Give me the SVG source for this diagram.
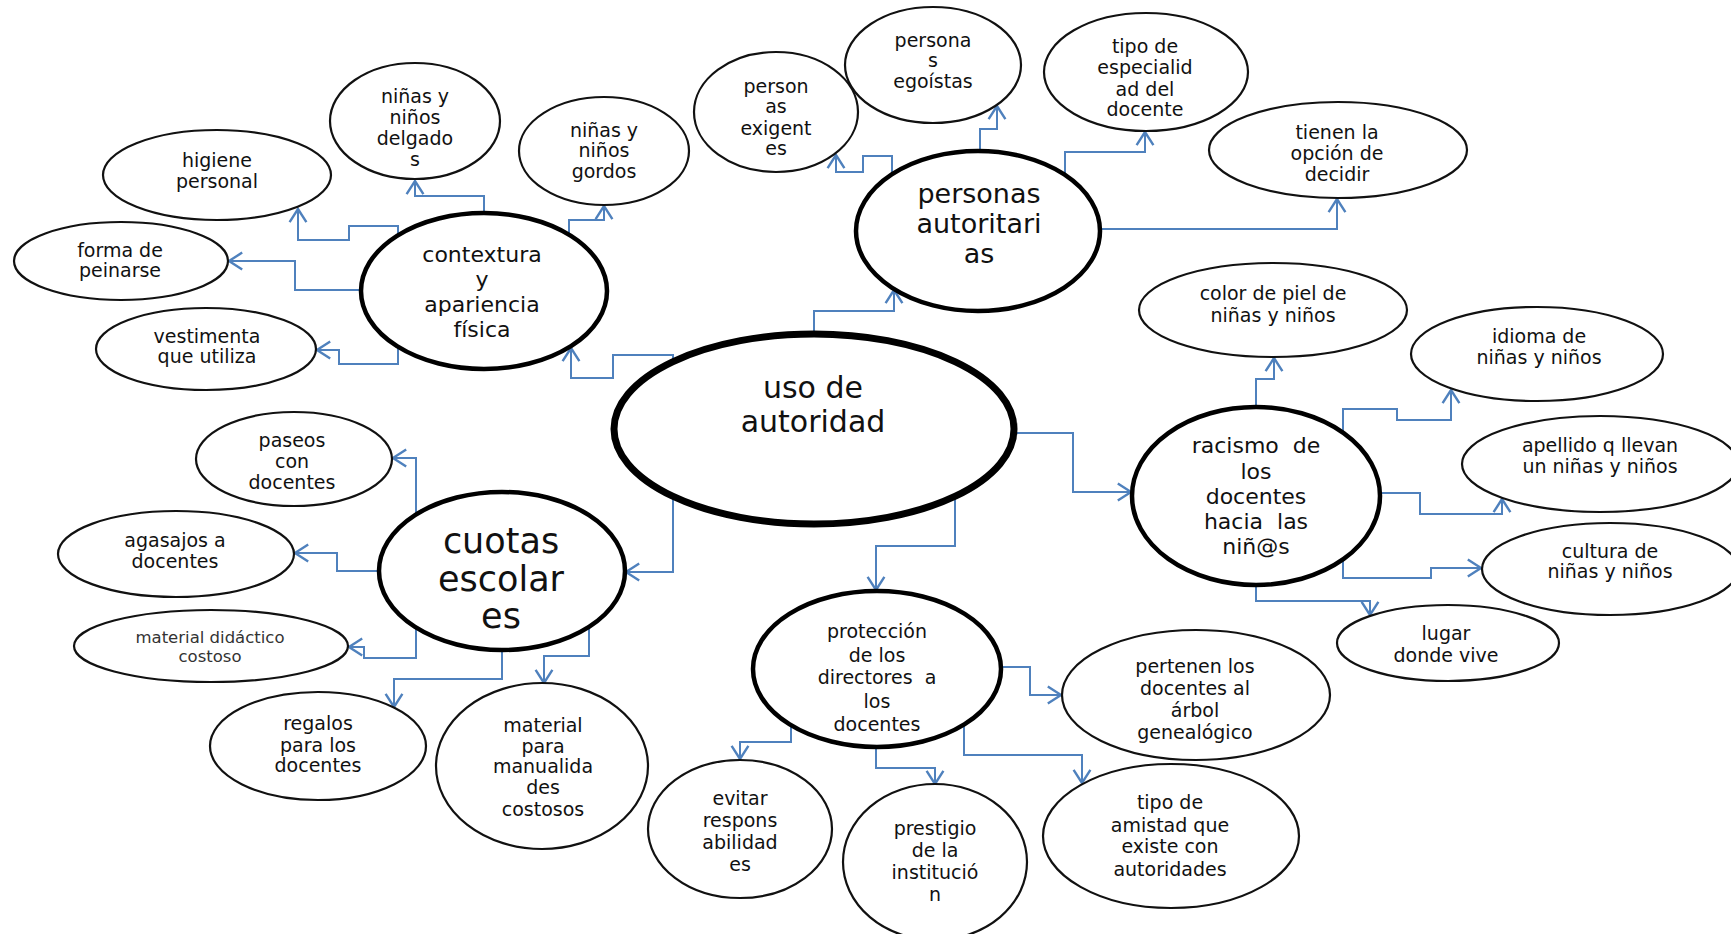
<svg xmlns="http://www.w3.org/2000/svg" width="1731" height="934" viewBox="0 0 1731 934">
<defs>
<marker id="arr" markerUnits="userSpaceOnUse" markerWidth="24" markerHeight="24" viewBox="-14 -10 16 20" refX="0" refY="0" orient="auto">
<path d="M-11,-7 L0,0 L-11,7" fill="none" stroke="#4f81bd" stroke-width="2"/>
</marker>
</defs>
<style>
.n{fill:#fff;stroke:#111;stroke-width:2.2}
.m{fill:#fff;stroke:#000;stroke-width:4.5}
.c{fill:#fff;stroke:#000;stroke-width:7}
text{font-family:"DejaVu Sans","Liberation Sans",sans-serif;fill:#111;text-anchor:middle}
.t{font-size:19px}
.s{font-size:16.5px;fill:#333}
.l{font-size:22px}
.k{font-size:27px}
.q{font-size:35px}
.u{font-size:30px}
.e path{fill:none;stroke:#4f81bd;stroke-width:2;marker-end:url(#arr)}
</style>
<rect width="1731" height="934" fill="#fff"/>
<g class="e" id="connectors">
<path d="M673,362 V355 H613 V378 H571 V348"/>
<path d="M398,235 V226 H349 V240 H298 V209"/>
<path d="M484,213 V196 H415 V181"/>
<path d="M569,235 V220 H604 V206"/>
<path d="M361,290 H295 V261 H229"/>
<path d="M398,347 V364 H339 V350 H317"/>
<path d="M814,334 V311 H894 V290"/>
<path d="M892,174 V156 H863 V172 H836 V155"/>
<path d="M980,151 V129 H997 V106"/>
<path d="M1065,175 V152 H1145 V132"/>
<path d="M1100,229 H1337 V199"/>
<path d="M1014,433 H1073 V492 H1131"/>
<path d="M1256,407 V379 H1274 V358"/>
<path d="M1343,433 V409 H1397 V420 H1451 V390"/>
<path d="M1380,493 H1420 V514 H1502 V499"/>
<path d="M1343,559 V578 H1431 V568 H1481"/>
<path d="M1256,585 V601 H1370 V615"/>
<path d="M673,496 V572 H626"/>
<path d="M416,515 V458 H393"/>
<path d="M379,571 H337 V553 H295"/>
<path d="M416,628 V658 H364 V647 H349"/>
<path d="M502,650 V679 H394 V707"/>
<path d="M589,627 V656 H544 V683"/>
<path d="M955,497 V546 H876 V590"/>
<path d="M1001,667 H1030 V695 H1061"/>
<path d="M791,725 V742 H740 V759"/>
<path d="M876,747 V768 H935 V784"/>
<path d="M964,725 V755 H1082 V783"/>
</g>
<g id="uso-de-autoridad"><ellipse class="c" cx="814" cy="429" rx="200" ry="95"/><text class="u" x="813" y="398">uso de</text><text class="u" x="813" y="432">autoridad</text></g>
<g id="contextura"><ellipse class="m" cx="484" cy="291" rx="123" ry="78"/><text class="l" x="482" y="262">contextura</text><text class="l" x="482" y="287">y</text><text class="l" x="482" y="312">apariencia</text><text class="l" x="482" y="337">física</text></g>
<g id="higiene"><ellipse class="n" cx="217" cy="175" rx="114" ry="45"/><text class="t" x="217" y="167">higiene</text><text class="t" x="217" y="188">personal</text></g>
<g id="delgados"><ellipse class="n" cx="415" cy="121" rx="85" ry="58"/><text class="t" x="415" y="103">niñas y</text><text class="t" x="415" y="124">niños</text><text class="t" x="415" y="145">delgado</text><text class="t" x="415" y="166">s</text></g>
<g id="gordos"><ellipse class="n" cx="604" cy="151" rx="85" ry="54"/><text class="t" x="604" y="137">niñas y</text><text class="t" x="604" y="157">niños</text><text class="t" x="604" y="178">gordos</text></g>
<g id="peinarse"><ellipse class="n" cx="121" cy="261" rx="107" ry="39"/><text class="t" x="120" y="257">forma de</text><text class="t" x="120" y="277">peinarse</text></g>
<g id="vestimenta"><ellipse class="n" cx="206" cy="349" rx="110" ry="41"/><text class="t" x="207" y="343">vestimenta</text><text class="t" x="207" y="363">que utiliza</text></g>
<g id="autoritarias"><ellipse class="m" cx="978" cy="231" rx="122" ry="80"/><text class="k" x="979" y="203">personas</text><text class="k" x="979" y="233">autoritari</text><text class="k" x="979" y="263">as</text></g>
<g id="exigentes"><ellipse class="n" cx="776" cy="112" rx="82" ry="60"/><text class="t" x="776" y="93">person</text><text class="t" x="776" y="113">as</text><text class="t" x="776" y="135">exigent</text><text class="t" x="776" y="155">es</text></g>
<g id="egoistas"><ellipse class="n" cx="933" cy="65" rx="88" ry="58"/><text class="t" x="933" y="47">persona</text><text class="t" x="933" y="67">s</text><text class="t" x="933" y="88">egoístas</text></g>
<g id="especialidad"><ellipse class="n" cx="1146" cy="72" rx="102" ry="59"/><text class="t" x="1145" y="53">tipo de</text><text class="t" x="1145" y="74">especialid</text><text class="t" x="1145" y="96">ad del</text><text class="t" x="1145" y="116">docente</text></g>
<g id="decidir"><ellipse class="n" cx="1338" cy="150" rx="129" ry="48"/><text class="t" x="1337" y="139">tienen la</text><text class="t" x="1337" y="160">opción de</text><text class="t" x="1337" y="181">decidir</text></g>
<g id="racismo"><ellipse class="m" cx="1256" cy="496" rx="124" ry="89"/><text class="l" x="1256" y="453" xml:space="preserve">racismo  de</text><text class="l" x="1256" y="479">los</text><text class="l" x="1256" y="504">docentes</text><text class="l" x="1256" y="529" xml:space="preserve">hacia  las</text><text class="l" x="1256" y="554">niñ@s</text></g>
<g id="color-piel"><ellipse class="n" cx="1273" cy="310" rx="134" ry="47"/><text class="t" x="1273" y="300">color de piel de</text><text class="t" x="1273" y="322">niñas y niños</text></g>
<g id="idioma"><ellipse class="n" cx="1537" cy="354" rx="126" ry="47"/><text class="t" x="1539" y="343">idioma de</text><text class="t" x="1539" y="364">niñas y niños</text></g>
<g id="apellido"><ellipse class="n" cx="1600" cy="464" rx="138" ry="48"/><text class="t" x="1600" y="452">apellido q llevan</text><text class="t" x="1600" y="473">un niñas y niños</text></g>
<g id="cultura"><ellipse class="n" cx="1610" cy="569" rx="128" ry="46"/><text class="t" x="1610" y="558">cultura de</text><text class="t" x="1610" y="578">niñas y niños</text></g>
<g id="lugar"><ellipse class="n" cx="1448" cy="643" rx="111" ry="38"/><text class="t" x="1446" y="640">lugar</text><text class="t" x="1446" y="662">donde vive</text></g>
<g id="cuotas"><ellipse class="m" cx="502" cy="571" rx="123" ry="79"/><text class="q" x="501" y="553">cuotas</text><text class="q" x="501" y="591">escolar</text><text class="q" x="501" y="628">es</text></g>
<g id="paseos"><ellipse class="n" cx="294" cy="459" rx="98" ry="47"/><text class="t" x="292" y="447">paseos</text><text class="t" x="292" y="468">con</text><text class="t" x="292" y="489">docentes</text></g>
<g id="agasajos"><ellipse class="n" cx="176" cy="554" rx="118" ry="43"/><text class="t" x="175" y="547">agasajos a</text><text class="t" x="175" y="568">docentes</text></g>
<g id="material-didactico"><ellipse class="n" cx="211" cy="646" rx="137" ry="36"/><text class="s" x="210" y="643">material didáctico</text><text class="s" x="210" y="662">costoso</text></g>
<g id="regalos"><ellipse class="n" cx="318" cy="746" rx="108" ry="54"/><text class="t" x="318" y="730">regalos</text><text class="t" x="318" y="752">para los</text><text class="t" x="318" y="772">docentes</text></g>
<g id="manualidades"><ellipse class="n" cx="542" cy="766" rx="106" ry="83"/><text class="t" x="543" y="732">material</text><text class="t" x="543" y="753">para</text><text class="t" x="543" y="773">manualida</text><text class="t" x="543" y="794">des</text><text class="t" x="543" y="816">costosos</text></g>
<g id="proteccion"><ellipse class="m" cx="877" cy="669" rx="124" ry="78"/><text class="t" x="877" y="638">protección</text><text class="t" x="877" y="662">de los</text><text class="t" x="877" y="684" xml:space="preserve">directores  a</text><text class="t" x="877" y="708">los</text><text class="t" x="877" y="731">docentes</text></g>
<g id="evitar"><ellipse class="n" cx="740" cy="829" rx="92" ry="69"/><text class="t" x="740" y="805">evitar</text><text class="t" x="740" y="827">respons</text><text class="t" x="740" y="849">abilidad</text><text class="t" x="740" y="871">es</text></g>
<g id="prestigio"><ellipse class="n" cx="935" cy="862" rx="92" ry="78"/><text class="t" x="935" y="835">prestigio</text><text class="t" x="935" y="857">de la</text><text class="t" x="935" y="879">institució</text><text class="t" x="935" y="901">n</text></g>
<g id="pertenen"><ellipse class="n" cx="1196" cy="695" rx="134" ry="65"/><text class="t" x="1195" y="673">pertenen los</text><text class="t" x="1195" y="695">docentes al</text><text class="t" x="1195" y="717">árbol</text><text class="t" x="1195" y="739">genealógico</text></g>
<g id="amistad"><ellipse class="n" cx="1171" cy="836" rx="128" ry="72"/><text class="t" x="1170" y="809">tipo de</text><text class="t" x="1170" y="832">amistad que</text><text class="t" x="1170" y="853">existe con</text><text class="t" x="1170" y="876">autoridades</text></g>
</svg>
